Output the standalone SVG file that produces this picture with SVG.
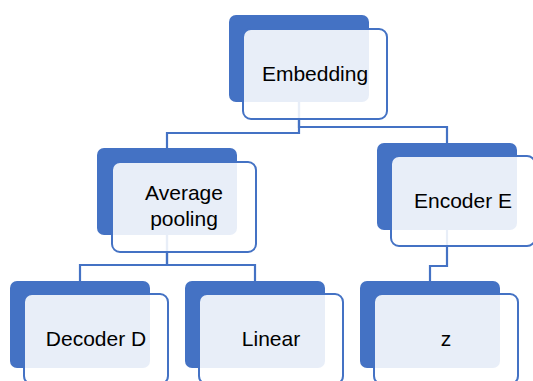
<svg xmlns="http://www.w3.org/2000/svg" width="533" height="381" viewBox="0 0 533 381">
  <style>
    .back { fill: #4472C4; }
    .front { fill: #FFFFFF; fill-opacity: 0.88; stroke: #4472C4; stroke-width: 2; }
    .label { font-family: "Liberation Sans", Arial, sans-serif; font-size: 21px; fill: #000000; text-anchor: middle; }
    .link { fill: none; stroke: #4472C4; stroke-width: 2.2; }
  </style>
  <rect x="0" y="0" width="533" height="381" fill="#FFFFFF"/>

  <!-- elbow connectors, drawn beneath the nodes -->
  <g id="connectors">
    <path class="link" d="M299,100 V133 H167 V149"/>
    <path class="link" d="M299,100 V127 H447 V144"/>
    <path class="link" d="M167,233 V265 H80 V281"/>
    <path class="link" d="M167,233 V265 H255 V281"/>
    <path class="link" d="M447,227 V266 H430 V282"/>
  </g>

  <g id="node-embedding">
    <rect class="back" x="229" y="15" width="140" height="87" rx="7"/>
    <rect class="front" x="243" y="29" width="144" height="90" rx="8"/>
    <text class="label" x="315" y="81">Embedding</text>
  </g>

  <g id="node-average-pooling">
    <rect class="back" x="97" y="148" width="140" height="87" rx="7"/>
    <rect class="front" x="112" y="162" width="144" height="90" rx="8"/>
    <text class="label" x="184" y="200">Average</text>
    <text class="label" x="184" y="226">pooling</text>
  </g>

  <g id="node-encoder-e">
    <rect class="back" x="377" y="143" width="140" height="87" rx="7"/>
    <rect class="front" x="391" y="156" width="144" height="90" rx="8"/>
    <text class="label" x="463" y="208">Encoder E</text>
  </g>

  <g id="node-decoder-d">
    <rect class="back" x="10" y="281" width="140" height="87" rx="7"/>
    <rect class="front" x="24" y="294" width="144" height="90" rx="8"/>
    <text class="label" x="96" y="346">Decoder D</text>
  </g>

  <g id="node-linear">
    <rect class="back" x="185" y="281" width="140" height="87" rx="7"/>
    <rect class="front" x="199" y="294" width="144" height="90" rx="8"/>
    <text class="label" x="271" y="346">Linear</text>
  </g>

  <g id="node-z">
    <rect class="back" x="360" y="281" width="140" height="87" rx="7"/>
    <rect class="front" x="374" y="294" width="144" height="90" rx="8"/>
    <text class="label" x="446" y="346">z</text>
  </g>
</svg>
